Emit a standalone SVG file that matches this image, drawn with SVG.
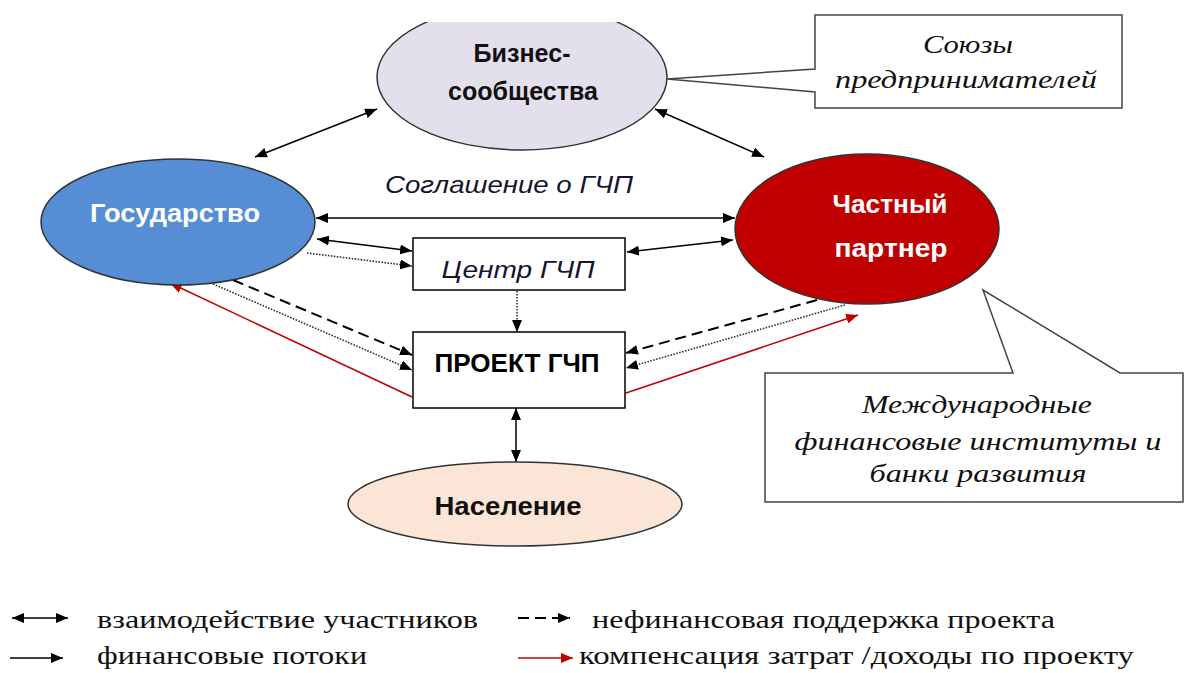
<svg xmlns="http://www.w3.org/2000/svg" width="1187" height="673" viewBox="0 0 1187 673">
<defs>
<style>
.bold{font-family:"Liberation Sans",Arial,sans-serif;font-weight:bold;}
.it{font-family:"Liberation Sans",Arial,sans-serif;font-style:italic;fill:#15152e;}
.serif{font-family:"Liberation Serif","Times New Roman",serif;fill:#111;}
.serifit{font-family:"Liberation Serif","Times New Roman",serif;font-style:italic;fill:#111;}
.ln{stroke:#000;stroke-width:1.5;fill:none;}
.dot{stroke:#333;stroke-width:1.6;stroke-dasharray:1.6 1.4;fill:none;}
.dash{stroke:#000;stroke-width:2;stroke-dasharray:11 6;fill:none;}
.red{stroke:#C00000;stroke-width:1.5;fill:none;}
.box{fill:#fff;stroke:#000;stroke-width:1.5;}
.call{fill:#fff;stroke:#444;stroke-width:1.5;}
</style>
<marker id="ah" viewBox="0 0 12 10" refX="12" refY="5" markerWidth="12" markerHeight="10" markerUnits="userSpaceOnUse" orient="auto-start-reverse"><path d="M0,0 L12,5 L0,10 Z" fill="#000"/></marker>
<marker id="ahr" viewBox="0 0 12 10" refX="12" refY="5" markerWidth="12" markerHeight="10" markerUnits="userSpaceOnUse" orient="auto-start-reverse"><path d="M0,0 L12,5 L0,10 Z" fill="#C00000"/></marker>
</defs>
<rect width="1187" height="673" fill="#fff"/>

<g id="connectors">
<line class="ln" x1="255" y1="157" x2="377" y2="109" marker-start="url(#ah)" marker-end="url(#ah)"/>
<line class="ln" x1="655" y1="109" x2="764" y2="157" marker-start="url(#ah)" marker-end="url(#ah)"/>
<line class="ln" x1="316" y1="218" x2="735" y2="218" marker-start="url(#ah)" marker-end="url(#ah)"/>
<line class="ln" x1="317" y1="239" x2="412" y2="251" marker-start="url(#ah)" marker-end="url(#ah)"/>
<line class="dot" x1="307" y1="253" x2="412" y2="266" marker-end="url(#ah)"/>
<line class="ln" x1="627" y1="252" x2="733" y2="240" marker-start="url(#ah)" marker-end="url(#ah)"/>
<line class="dot" x1="517" y1="291" x2="517" y2="332" marker-end="url(#ah)"/>
<line class="dash" x1="233" y1="280" x2="412" y2="355" marker-end="url(#ah)"/>
<line class="dot" x1="213" y1="284" x2="412" y2="370" marker-end="url(#ah)"/>
<line class="red" x1="412" y1="397" x2="170" y2="283" marker-end="url(#ahr)"/>
<line class="dash" x1="817" y1="300" x2="626" y2="353" marker-end="url(#ah)"/>
<line class="dot" x1="845" y1="305" x2="626" y2="368" marker-end="url(#ah)"/>
<line class="red" x1="626" y1="393" x2="858" y2="315" marker-end="url(#ahr)"/>
<line class="ln" x1="516" y1="408" x2="516" y2="462" marker-start="url(#ah)" marker-end="url(#ah)"/>
</g>

<g id="biz">
<ellipse cx="522" cy="77" rx="145" ry="73" fill="#E4DFEC" stroke="#333" stroke-width="1.5"/>
<rect x="421" y="0" width="206" height="22" fill="#fff"/>
<text class="bold" x="522" y="62" font-size="25" text-anchor="middle" fill="#111" textLength="97" lengthAdjust="spacingAndGlyphs">Бизнес-</text>
<text class="bold" x="523" y="100" font-size="25" text-anchor="middle" fill="#111" textLength="150" lengthAdjust="spacingAndGlyphs">сообщества</text>
</g>

<g id="soyuzy">
<path class="call" d="M815,69 L815,15 L1122,15 L1122,108 L815,108 L815,92 L667,79 Z"/>
<text class="serifit" x="968" y="53" font-size="26" text-anchor="middle" textLength="90" lengthAdjust="spacingAndGlyphs">Союзы</text>
<text class="serifit" x="966" y="88" font-size="26" text-anchor="middle" textLength="262" lengthAdjust="spacingAndGlyphs">предпринимателей</text>
</g>

<g id="gos">
<ellipse cx="178" cy="222" rx="137" ry="63" fill="#558ED5" stroke="#333" stroke-width="1.5"/>
<text class="bold" x="175" y="222" font-size="26" text-anchor="middle" fill="#fff" textLength="170" lengthAdjust="spacingAndGlyphs">Государство</text>
</g>

<g id="partner">
<ellipse cx="867" cy="229" rx="132" ry="75" fill="#C00000" stroke="#333" stroke-width="1.5"/>
<text class="bold" x="890" y="213" font-size="26" text-anchor="middle" fill="#fff" textLength="115" lengthAdjust="spacingAndGlyphs">Частный</text>
<text class="bold" x="891" y="257" font-size="26" text-anchor="middle" fill="#fff" textLength="113" lengthAdjust="spacingAndGlyphs">партнер</text>
</g>

<text class="it" x="509" y="193" font-size="24" text-anchor="middle" textLength="248" lengthAdjust="spacingAndGlyphs">Соглашение  о ГЧП</text>

<g id="center">
<rect class="box" x="413" y="238" width="212" height="52"/>
<text class="it" x="518" y="278" font-size="24" text-anchor="middle" textLength="153" lengthAdjust="spacingAndGlyphs">Центр ГЧП</text>
</g>

<g id="project">
<rect class="box" x="413" y="332" width="212" height="76"/>
<text class="bold" x="517" y="372" font-size="25" text-anchor="middle" fill="#000" textLength="165" lengthAdjust="spacingAndGlyphs">ПРОЕКТ ГЧП</text>
</g>

<g id="naselenie">
<ellipse cx="515" cy="504" rx="167" ry="42" fill="#FBE5D6" stroke="#333" stroke-width="1.5"/>
<text class="bold" x="508" y="515" font-size="25" text-anchor="middle" fill="#111" textLength="147" lengthAdjust="spacingAndGlyphs">Население</text>
</g>

<g id="mfi">
<path class="call" d="M765,373 L1013,373 L983,290 L1120,373 L1183,373 L1183,502 L765,502 Z"/>
<text class="serifit" x="977" y="413" font-size="26" text-anchor="middle" textLength="230" lengthAdjust="spacingAndGlyphs">Международные</text>
<text class="serifit" x="978" y="450" font-size="26" text-anchor="middle" textLength="367" lengthAdjust="spacingAndGlyphs">финансовые институты и</text>
<text class="serifit" x="978" y="482" font-size="26" text-anchor="middle" textLength="217" lengthAdjust="spacingAndGlyphs">банки развития</text>
</g>

<g id="legend">
<line class="ln" x1="12" y1="618" x2="68" y2="618" stroke-width="2" marker-start="url(#ah)" marker-end="url(#ah)"/>
<text class="serif" x="97" y="628" font-size="26" textLength="381" lengthAdjust="spacingAndGlyphs">взаимодействие участников</text>
<line class="ln" x1="10" y1="658" x2="63" y2="658" stroke-width="1" marker-end="url(#ah)"/>
<text class="serif" x="97" y="664" font-size="26" textLength="270" lengthAdjust="spacingAndGlyphs">финансовые потоки</text>
<line class="dash" x1="518" y1="618" x2="570" y2="618" stroke-dasharray="10 6" marker-end="url(#ah)"/>
<text class="serif" x="592" y="628" font-size="26" textLength="463" lengthAdjust="spacingAndGlyphs">нефинансовая поддержка проекта</text>
<line class="red" x1="518" y1="658" x2="573" y2="658" stroke-width="2" marker-end="url(#ahr)"/>
<text class="serif" x="579" y="664" font-size="26" textLength="555" lengthAdjust="spacingAndGlyphs">компенсация затрат /доходы по проекту</text>
</g>
</svg>
